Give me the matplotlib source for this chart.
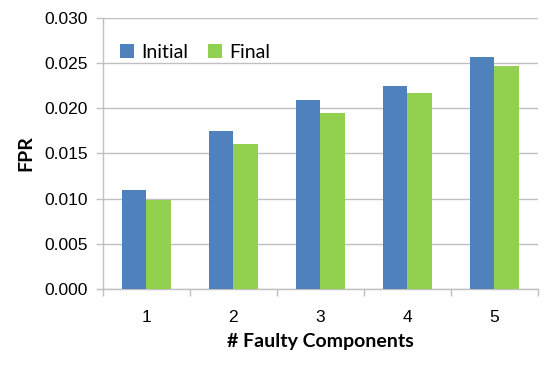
import numpy as np
import matplotlib
matplotlib.use("Agg")
import matplotlib.pyplot as plt

# --- Chart data ---
categories = ["1", "2", "3", "4", "5"]
initial = [0.0110, 0.0175, 0.0209, 0.0225, 0.0257]
final = [0.0099, 0.0161, 0.0195, 0.0217, 0.0247]

BLUE = "#4F81BD"
GREEN = "#92D050"
GRID = "#C0C0C0"

fig = plt.figure(figsize=(5.5, 3.68), dpi=100)
ax = fig.add_axes([0.187, 0.215, 0.791, 0.736])

x = np.arange(1, len(categories) + 1)
w = 0.28
ax.bar(x - w / 2, initial, width=w, color=BLUE, label="Initial", zorder=3)
ax.bar(x + w / 2, final, width=w, color=GREEN, label="Final", zorder=3)

ax.set_xlim(0.5, len(categories) + 0.5)
ax.set_ylim(0, 0.030)

# y axis: Excel-style gridlines
yt = np.arange(0, 0.0301, 0.005)
ax.set_yticks(yt)
ax.set_yticklabels([f"{v:.3f}" for v in yt], fontfamily="Liberation Sans", fontsize=12.5)
ax.yaxis.grid(True, color=GRID, linewidth=1, zorder=0)
ax.tick_params(axis="y", length=5, width=1, color=GRID, pad=6)

# x axis: tick marks at category boundaries, labels at centres
ax.set_xticks(np.arange(0.5, len(categories) + 1, 1.0))
ax.set_xticklabels([])
ax.tick_params(axis="x", which="major", length=5, width=1, color=GRID, direction="out")
ax.set_xticks(x, minor=True)
ax.set_xticklabels(categories, minor=True, fontfamily="Liberation Sans", fontsize=12.5)
ax.tick_params(axis="x", which="minor", length=0, pad=15)

for side in ["top", "right"]:
    ax.spines[side].set_visible(False)
for side in ["left", "bottom"]:
    ax.spines[side].set_color(GRID)
    ax.spines[side].set_linewidth(1)

ax.set_ylabel("FPR", fontfamily="Lato", fontweight="bold", fontsize=14, labelpad=7)
ax.set_xlabel("# Faulty Components", fontfamily="Lato", fontweight="bold", fontsize=14, labelpad=6)

ax.legend(loc="upper left", bbox_to_anchor=(0.0, 0.97), ncol=2, frameon=False,
          prop={"family": "Lato", "size": 14}, handlelength=0.7, handleheight=0.7,
          handletextpad=0.4, columnspacing=1.0)

fig.savefig("out.png", dpi=100)
